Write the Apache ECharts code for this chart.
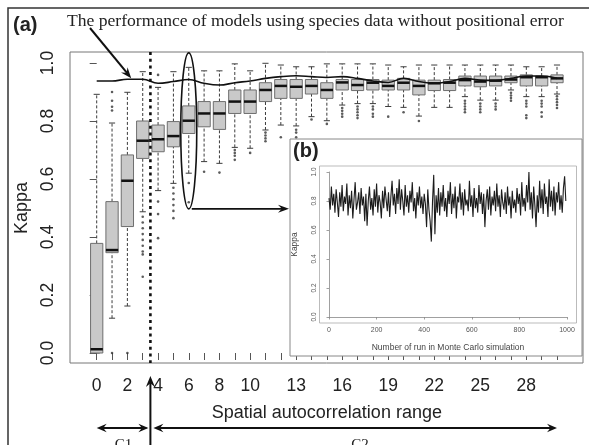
<!DOCTYPE html>
<html><head><meta charset="utf-8">
<script src="https://cdn.jsdelivr.net/npm/echarts@6/dist/echarts.min.js"></script>
<style>html,body{margin:0;padding:0;background:#fff}#c{width:589px;height:445px}</style>
</head><body><div id="c"></div>
<script>
const categories = [0,1,2,3,4,5,6,7,8,9,10,11,12,13,14,15,16,17,18,19,20,21,22,23,24,25,26,27,28,29,30];
const tickLabels = ['0','2','4','6','8','10','13','16','19','22','25','28'];
const whiskerLow  = [0.000,0.120,0.162,0.487,0.560,0.585,0.620,0.660,0.654,0.709,0.706,0.769,0.786,0.783,0.815,0.801,0.855,0.860,0.860,0.850,0.847,0.817,0.847,0.847,0.884,0.872,0.872,0.907,0.884,0.884,0.893];
const q1          = [0.000,0.346,0.436,0.671,0.694,0.711,0.757,0.780,0.771,0.826,0.826,0.867,0.878,0.878,0.893,0.878,0.907,0.905,0.907,0.907,0.907,0.890,0.905,0.905,0.921,0.918,0.921,0.932,0.921,0.921,0.932];
const medians     = [0.013,0.355,0.594,0.732,0.737,0.748,0.801,0.826,0.826,0.867,0.867,0.907,0.921,0.918,0.921,0.907,0.933,0.924,0.932,0.921,0.932,0.921,0.930,0.932,0.941,0.936,0.939,0.943,0.951,0.951,0.947];
const q3          = [0.378,0.522,0.683,0.800,0.786,0.798,0.852,0.867,0.867,0.907,0.907,0.932,0.943,0.943,0.943,0.932,0.943,0.943,0.943,0.941,0.947,0.941,0.941,0.943,0.955,0.955,0.955,0.955,0.959,0.955,0.959];
const whiskerHigh = [0.892,0.793,0.899,0.970,0.916,0.970,0.985,0.973,0.973,0.997,0.973,0.999,0.993,0.987,0.987,0.997,0.997,0.997,0.997,0.993,0.987,0.993,0.993,0.993,0.993,0.993,0.993,0.993,0.987,0.987,0.993];
const outliers = [
  [1,0.000],[1,0.836],[1,0.849],[1,0.870],[1,0.900],
  [2,0.000],
  [3,0.470],[3,0.450],[3,0.430],[3,0.410],[3,0.390],[3,0.370],[3,0.350],[3,0.340],[3,0.263],
  [4,0.959],[4,0.522],[4,0.479],[4,0.396],
  [5,0.570],[5,0.550],[5,0.530],[5,0.510],[5,0.490],[5,0.465],
  [6,0.586],[6,0.520],
  [7,0.625],[8,0.622],
  [9,0.700],[9,0.690],[9,0.680],[9,0.666],
  [10,0.690],
  [11,0.760],[11,0.750],[11,0.740],[11,0.730],
  [12,0.744],
  [13,0.770],[13,0.760],[13,0.744],
  [14,0.805],[15,0.790],
  [16,0.845],[16,0.835],[16,0.825],[16,0.815],
  [17,0.850],[17,0.840],[17,0.830],[17,0.820],[17,0.810],
  [18,0.850],[18,0.840],[18,0.825],[18,0.815],
  [19,0.815],[20,0.830],[21,0.800],
  [24,0.870],[24,0.860],[24,0.850],[24,0.840],[24,0.830],
  [25,0.860],[25,0.850],[25,0.840],[25,0.830],
  [26,0.860],[26,0.850],[26,0.840],
  [27,0.897],[27,0.888],[27,0.879],[27,0.870],
  [28,0.870],[28,0.860],[28,0.850],[28,0.820],[28,0.810],
  [29,0.870],[29,0.860],[29,0.850],[29,0.830],[29,0.815],
  [30,0.885],[30,0.875],[30,0.865],[30,0.855],[30,0.845]
];
const referenceKappa = [0.938,0.938,0.944,0.944,0.930,0.936,0.943,0.930,0.924,0.932,0.938,0.947,0.953,0.956,0.953,0.950,0.953,0.947,0.938,0.933,0.947,0.936,0.930,0.936,0.947,0.941,0.940,0.947,0.955,0.955,0.947];
const insetRunStep = 5;
const insetKappa = [
0.82,0.74,0.90,0.77,0.85,0.72,0.88,0.79,0.69,0.86,0.76,0.91,0.73,0.83,0.78,0.92,0.70,0.84,0.75,0.87,
0.68,0.81,0.93,0.74,0.79,0.86,0.71,0.89,0.77,0.83,0.66,0.85,0.63,0.80,0.90,0.74,0.82,0.70,0.88,0.76,
0.92,0.72,0.84,0.79,0.68,0.87,0.75,0.90,0.81,0.73,0.86,0.69,0.83,0.94,0.77,0.85,0.71,0.89,0.78,0.95,
0.74,0.88,0.80,0.70,0.91,0.76,0.84,0.72,0.87,0.79,0.93,0.73,0.82,0.68,0.86,0.77,0.90,0.75,0.83,0.71,
0.85,0.78,0.62,0.88,0.74,0.66,0.52,0.80,0.98,0.57,0.84,0.72,0.89,0.70,0.86,0.76,0.91,0.73,0.82,0.69,
0.87,0.78,0.93,0.71,0.85,0.75,0.90,0.68,0.83,0.79,0.92,0.74,0.86,0.70,0.88,0.77,0.81,0.73,0.94,0.76,
0.84,0.69,0.89,0.75,0.82,0.72,0.91,0.78,0.86,0.71,0.85,0.62,0.80,0.88,0.74,0.90,0.70,0.83,0.77,0.87,
0.73,0.92,0.76,0.84,0.69,0.88,0.79,0.74,0.86,0.71,0.90,0.77,0.83,0.68,0.87,0.75,0.81,0.72,0.89,0.78,
0.85,0.70,0.93,0.76,0.82,0.73,0.91,0.79,1.00,0.74,0.86,0.68,0.90,0.77,0.62,0.84,0.72,0.94,0.75,0.88,
0.71,0.92,0.78,0.83,0.69,0.95,0.76,0.87,0.73,0.90,0.70,0.86,0.79,0.93,0.74,0.84,0.72,0.89,0.97,0.80
];

const SANS = '"Liberation Sans", Arial, sans-serif';
const SERIF = '"Liberation Serif", "Times New Roman", serif';
const chart = echarts.init(document.getElementById('c'), null, {renderer: 'canvas'});

function renderBox(params, api) {
  const x = api.value(0);
  const lo = api.coord([x, api.value(1)]);
  const a = api.coord([x, api.value(2)]);
  const m = api.coord([x, api.value(3)]);
  const b = api.coord([x, api.value(4)]);
  const hi = api.coord([x, api.value(5)]);
  const unit = api.size([1, 0])[0];
  const hw = unit * 0.4, cw = unit * 0.2, cx = lo[0];
  const dash = {stroke: '#3c3c3c', lineWidth: 1, lineDash: [3, 2]};
  const solid = {stroke: '#3c3c3c', lineWidth: 1};
  return {type: 'group', children: [
    {type: 'line', shape: {x1: cx, y1: b[1], x2: cx, y2: hi[1]}, style: dash},
    {type: 'line', shape: {x1: cx, y1: lo[1], x2: cx, y2: a[1]}, style: dash},
    {type: 'line', shape: {x1: cx - cw, y1: hi[1], x2: cx + cw, y2: hi[1]}, style: solid},
    {type: 'line', shape: {x1: cx - cw, y1: lo[1], x2: cx + cw, y2: lo[1]}, style: solid},
    {type: 'rect', shape: {x: cx - hw, y: b[1], width: 2 * hw, height: a[1] - b[1]}, style: {fill: '#c9c9c9', stroke: '#6e6e6e', lineWidth: 1}},
    {type: 'line', shape: {x1: cx - hw, y1: m[1], x2: cx + hw, y2: m[1]}, style: {stroke: '#111', lineWidth: 2.5}}
  ]};
}

const option = {
  animation: false,
  backgroundColor: '#fff',
  grid: [
    {left: 96.7, right: 32, top: 63, height: 290},
    {left: 329, right: 22, top: 172, height: 145}
  ],
  xAxis: [
    {type: 'value', gridIndex: 0, min: 0, max: 30, interval: 1, offset: 10,
     axisLine: {show: false}, splitLine: {show: false},
     axisTick: {show: true, length: 7, lineStyle: {color: '#555', width: 1}},
     axisLabel: {fontSize: 17.5, fontFamily: SANS, color: '#222', margin: 14,
       formatter: v => tickLabels.includes(String(v)) ? String(v) : ''},
     name: 'Spatial autocorrelation range', nameLocation: 'middle', nameGap: 41,
     nameTextStyle: {fontSize: 18, fontFamily: SANS, color: '#222'}},
    {type: 'value', gridIndex: 1, min: 0, max: 1000, interval: 200, offset: 6, z: 30,
     axisLine: {show: true, lineStyle: {color: '#888', width: 0.8}}, splitLine: {show: false},
     axisTick: {show: true, length: 2.5, lineStyle: {color: '#888', width: 0.8}},
     axisLabel: {fontSize: 7, fontFamily: SANS, color: '#555', margin: 4, formatter: v => String(v)},
     name: 'Number of run in Monte Carlo simulation', nameLocation: 'middle', nameGap: 20,
     nameTextStyle: {fontSize: 8.5, fontFamily: SANS, color: '#444'}}
  ],
  yAxis: [
    {type: 'value', gridIndex: 0, min: 0, max: 1, interval: 0.2, offset: 26.7,
     axisLine: {show: false}, splitLine: {show: false},
     axisTick: {show: true, length: 7, lineStyle: {color: '#555', width: 1}},
     axisLabel: {rotate: 90, fontSize: 17.5, fontFamily: SANS, color: '#222', margin: 13,
       formatter: v => v.toFixed(1)},
     name: 'Kappa', nameLocation: 'middle', nameGap: 39,
     nameTextStyle: {fontSize: 18, fontFamily: SANS, color: '#222'}},
    {type: 'value', gridIndex: 1, min: 0, max: 1, interval: 0.2, offset: 9.5, z: 30,
     axisLine: {show: true, lineStyle: {color: '#888', width: 0.8}}, splitLine: {show: false},
     axisTick: {show: true, length: 2.5, lineStyle: {color: '#888', width: 0.8}},
     axisLabel: {rotate: 90, fontSize: 6.5, fontFamily: SANS, color: '#555', margin: 2,
       formatter: v => v.toFixed(1)},
     name: 'Kappa', nameLocation: 'middle', nameGap: 20,
     nameTextStyle: {fontSize: 8.5, fontFamily: SANS, color: '#444'}}
  ],
  series: [
    {type: 'custom', xAxisIndex: 0, yAxisIndex: 0, renderItem: renderBox,
     encode: {x: 0, y: [1, 2, 3, 4, 5]}, z: 3,
     data: categories.map((c, i) => [c, whiskerLow[i], q1[i], medians[i], q3[i], whiskerHigh[i]])},
    {type: 'scatter', xAxisIndex: 0, yAxisIndex: 0, symbol: 'circle', symbolSize: 2.6, z: 4,
     itemStyle: {color: '#333'}, data: outliers},
    {type: 'line', xAxisIndex: 0, yAxisIndex: 0, smooth: 0.4, symbol: 'none', z: 5,
     lineStyle: {color: '#111', width: 1.6},
     data: categories.map((c, i) => [c, referenceKappa[i]])},
    {type: 'line', xAxisIndex: 1, yAxisIndex: 1, symbol: 'none', z: 30,
     lineStyle: {color: '#1c1c1c', width: 1.1},
     data: insetKappa.map((v, i) => [i * insetRunStep, v])}
  ]
};
chart.setOption(option);

function head(tx, ty, fx, fy, len, hw) {
  const dx = tx - fx, dy = ty - fy, L = Math.hypot(dx, dy);
  const ux = dx / L, uy = dy / L, nx = -uy, ny = ux;
  const bx = tx - ux * len, by = ty - uy * len;
  const kx = tx - ux * len * 0.65, ky = ty - uy * len * 0.65;
  return {type: 'polygon', z: 20, shape: {points: [[tx, ty], [bx + nx * hw, by + ny * hw], [kx, ky], [bx - nx * hw, by - ny * hw]]}, style: {fill: '#111'}};
}
function seg(x1, y1, x2, y2, w, extra) {
  return {type: 'line', z: 20, shape: {x1, y1, x2, y2}, style: Object.assign({stroke: '#111', lineWidth: w}, extra || {})};
}
const P = v => chart.convertToPixel({gridIndex: 0}, v);
const split = P([3.5, 0])[0];
const c0 = P([0, 0])[0];
const c30 = P([30, 0])[0];
const ellTop = P([6, 1.035]);
const ellBot = P([6, 0.497]);
const tip = P([2.25, 0.947]);
const g = [];
g.push({type: 'rect', z: 1, shape: {x: 8, y: 8, width: 620, height: 480}, style: {fill: null, stroke: '#333', lineWidth: 1.5}});
g.push({type: 'rect', z: 1, shape: {x: 70, y: 52, width: 513, height: 311}, style: {fill: null, stroke: '#777', lineWidth: 1}});
g.push({type: 'rect', z: 1, shape: {x: 290, y: 139, width: 292, height: 217}, style: {fill: '#fff', stroke: '#888', lineWidth: 1}});
g.push({type: 'rect', z: 1, shape: {x: 319.5, y: 166, width: 257, height: 157}, style: {fill: null, stroke: '#aaa', lineWidth: 0.8}});
g.push({type: 'text', z: 21, x: 293, y: 151.5, style: {text: '(b)', fontSize: 20, fontWeight: 'bold', fontFamily: SANS, fill: '#222', align: 'left', verticalAlign: 'middle'}});
g.push({type: 'text', z: 21, x: 13, y: 25, style: {text: '(a)', fontSize: 20, fontWeight: 'bold', fontFamily: SANS, fill: '#222', align: 'left', verticalAlign: 'middle'}});
g.push({type: 'text', z: 21, x: 67, y: 21, style: {text: 'The performance of models using species data without positional error', fontSize: 17.6, fontFamily: SERIF, fill: '#222', align: 'left', verticalAlign: 'middle'}});
g.push(seg(split, 52, split, 363, 2.6, {lineDash: [3, 3.7]}));
g.push({type: 'ellipse', z: 20, shape: {cx: ellTop[0], cy: (ellTop[1] + ellBot[1]) / 2, rx: 8, ry: (ellBot[1] - ellTop[1]) / 2}, style: {fill: null, stroke: '#111', lineWidth: 1.6}});
g.push(seg(ellTop[0] + 3, ellBot[1], 286, ellBot[1], 1.8));
g.push(head(289, ellBot[1], ellTop[0], ellBot[1], 11, 4));
g.push(seg(90, 28, tip[0] - 3, tip[1] - 4, 2));
g.push(head(tip[0], tip[1], 90, 28, 11, 4.2));
g.push(seg(split, 450, split, 381, 2));
g.push(head(split, 376, split, 450, 11, 4.5));
g.push(seg(c0 + 4, 428, split - 4, 428, 2));
g.push(head(c0, 428, split, 428, 10, 4.2));
g.push(head(split - 2, 428, c0, 428, 10, 4.2));
g.push(seg(split + 6, 428, c30 - 4, 428, 2));
g.push(head(split + 3, 428, c30, 428, 10, 4.2));
g.push(head(c30, 428, split, 428, 10, 4.2));
g.push({type: 'text', z: 21, x: (c0 + split) / 2, y: 438, style: {text: 'C1', fontSize: 15, fontFamily: SERIF, fill: '#222', align: 'center', verticalAlign: 'top'}});
g.push({type: 'text', z: 21, x: 360, y: 438, style: {text: 'C2', fontSize: 15, fontFamily: SERIF, fill: '#222', align: 'center', verticalAlign: 'top'}});
chart.setOption({graphic: g});
</script></body></html>
